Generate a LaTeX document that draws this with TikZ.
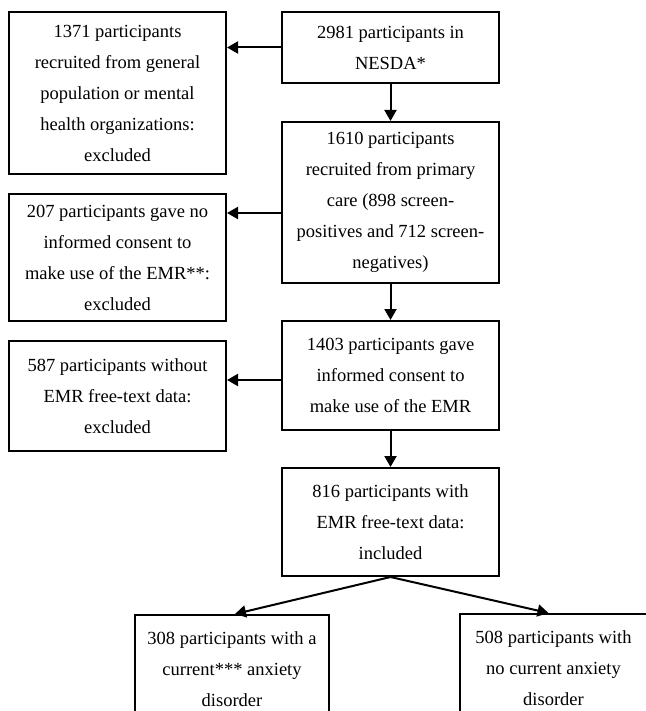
\documentclass[tikz,border=0pt]{standalone}
\usepackage{fontspec}
\setmainfont{Liberation Serif}
\usetikzlibrary{positioning, arrows.meta}

\begin{document}
\begin{tikzpicture}[->,>={Triangle[length=11pt,width=12pt]},line width=2pt,node distance=36pt and 54pt,
    box/.style={draw,align=center,inner sep=0pt,minimum width=217pt,font=\fontsize{18.5}{31}\selectfont}]
      \useasboundingbox (0,0) rectangle (645pt,-711pt);
      \node[box, minimum height=71pt] (nesda) at (390.5pt,-47.5pt) {2981 participants in\\NESDA*};
      \node[box, minimum height=161pt] (primary) [below=37pt of nesda] {1610 participants\\recruited from primary\\care (898 screen-\\positives and 712 screen-\\negatives)};
      \node[box, minimum height=109pt] (consent) [below=of primary] {1403 participants gave\\informed consent to\\make use of the EMR};
      \node[box, minimum height=108pt] (freetext) [below=of consent] {816 participants with\\EMR free-text data:\\included};
      \node[box, minimum height=162pt] (general) [left=of nesda.north west, anchor=north east] {1371 participants\\recruited from general\\population or mental\\health organizations:\\excluded};
      \node[box, minimum height=127pt] (noconsent) [below=18pt of general] {207 participants gave no\\informed consent to\\make use of the EMR**:\\excluded};
      \node[box, minimum height=110pt] (notext) [below=18pt of noconsent] {587 participants without\\EMR free-text data:\\excluded};
      \node[box, minimum height=108pt, minimum width=194pt] (anxiety) [below=37pt of freetext.south, xshift=-158.5pt] {308 participants with a\\current*** anxiety\\disorder};
      \node[box, minimum height=108pt, minimum width=187pt] (noanxiety) [below=36pt of freetext.south, xshift=163pt] {508 participants with\\no current anxiety\\disorder};

      \path (nesda) edge (primary)
            (primary) edge (consent)
            (consent) edge (freetext)
            (nesda.west) edge (nesda.west -| general.east)
            ([yshift=-10.5pt]primary.west) edge ([yshift=-10.5pt]primary.west -| noconsent.east)
            ([yshift=-4.5pt]consent.west) edge ([yshift=-4.5pt]consent.west -| notext.east)
            (freetext.south) edge ([xshift=3pt]anxiety.north)
            (freetext.south) edge ([xshift=-5pt]noanxiety.north)
            ;
    \end{tikzpicture}
\end{document}
